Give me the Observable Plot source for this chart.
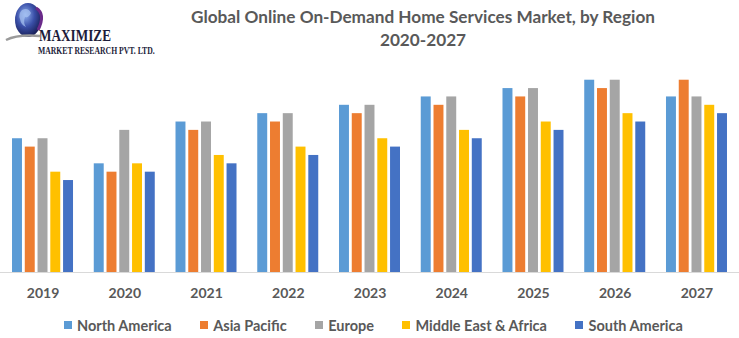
<!DOCTYPE html>
<html>
<head>
<meta charset="utf-8">
<script src="https://cdn.jsdelivr.net/npm/d3@7"></script>
<script src="https://cdn.jsdelivr.net/npm/@observablehq/plot@0.6"></script>
<style>
  html, body { margin: 0; padding: 0; background: #fff; }
  #wrap { position: relative; width: 739px; height: 338px; overflow: hidden; background: #fff; }
  #logo { position: absolute; left: 0; top: 0; }
  #title { position: absolute; left: 178px; width: 490px; top: 5px; text-align: center;
           font-family: Lato, "Open Sans", sans-serif; font-weight: 700; font-size: 17.2px;
           line-height: 23px; color: #595959; }
  #chart { position: absolute; left: 0; top: 60px; }
  #legend { position: absolute; left: 64px; top: 317px; height: 16px; display: flex; align-items: center;
            font-family: Lato, "Open Sans", sans-serif; font-weight: 700; font-size: 14.5px; color: #595959; }
  .item { display: flex; align-items: center; margin-right: 28.5px; white-space: nowrap; }
  .sw { width: 8px; height: 8px; margin-right: 5px; display: inline-block; }
</style>
</head>
<body>
<div id="wrap">
  <svg id="logo" width="172" height="58" viewBox="0 0 172 58">
    <defs>
      <radialGradient id="g" cx="0.4" cy="0.35" r="0.7">
        <stop offset="0" stop-color="#8fb0ee"/>
        <stop offset="0.5" stop-color="#3a4fa8"/>
        <stop offset="1" stop-color="#141a4e"/>
      </radialGradient>
    </defs>
    <ellipse cx="28" cy="20" rx="13" ry="17" fill="url(#g)"/>
    <path d="M22 10 q6 -3 9 3 q-2 5 -6 4 q-2 6 1 10 q-5 -2 -6 -8 q-2 -5 2 -9z" fill="#a9c4f2" opacity="0.7"/>
    <path d="M36 8 q10 6 2 22" stroke="#6a2a8a" stroke-width="3" fill="none"/>
    <path d="M6 40 q12 -6 34 -4" stroke="#9a9a9a" stroke-width="2.5" fill="none"/>
    <text id="lg1" font-family="'Liberation Serif', serif" font-weight="700" font-size="17" fill="#1c1c3a">MAXIMIZE</text>
    <text id="lg2" font-family="'Liberation Serif', serif" font-weight="700" font-size="10" fill="#1c1c3a">MARKET RESEARCH PVT. LTD.</text>
  </svg>
  <div id="title">Global Online On-Demand Home Services Market, by Region<br>2020-2027</div>
  <div id="chart"></div>
  <div id="legend"></div>
</div>
<script>
const years = ["2019", "2020", "2021", "2022", "2023", "2024", "2025", "2026", "2027"];
const regions = ["North America", "Asia Pacific", "Europe", "Middle East & Africa", "South America"];
const colors = ["#5B9BD5", "#ED7D31", "#A5A5A5", "#FFC000", "#4472C4"];

const northAmerica     = [16, 13, 18, 19, 20, 21, 22, 23, 21];
const asiaPacific      = [15, 12, 17, 18, 19, 20, 21, 22, 23];
const europe           = [16, 17, 18, 19, 20, 21, 22, 23, 21];
const middleEastAfrica = [12, 13, 14, 15, 16, 17, 18, 19, 20];
const southAmerica     = [11, 12, 13, 14, 15, 16, 17, 18, 19];

const series = [northAmerica, asiaPacific, europe, middleEastAfrica, southAmerica];
const data = [];
years.forEach((yr, i) => {
  regions.forEach((r, j) => data.push({ year: yr, region: r, value: series[j][i] }));
});

// logo text: fit to measured widths
function fitText(id, x, y, targetW) {
  const t = document.getElementById(id);
  const w = t.getComputedTextLength();
  const sx = targetW / w;
  t.setAttribute("transform", `translate(${x},${y}) scale(${sx},1)`);
}
fitText("lg1", 39, 40.5, 72);
fitText("lg2", 38, 54, 117);

const chart = Plot.plot({
  width: 739,
  height: 245,
  marginTop: 3,
  marginBottom: 33,
  marginLeft: 0,
  marginRight: 0,
  style: { fontFamily: "Lato, 'Open Sans', sans-serif", fontSize: "14px", fontWeight: "bold", color: "#595959", background: "transparent" },
  fx: { domain: years, paddingInner: 0.2538, paddingOuter: 0.147, round: false, axis: "bottom", tickSize: 0, tickPadding: 16, label: null },
  x: { domain: regions, axis: null, paddingInner: 0.22, paddingOuter: 0, round: false },
  y: { domain: [0, 25], axis: null },
  color: { domain: regions, range: colors },
  marks: [
    Plot.ruleY([0], { stroke: "#d9d9d9", strokeWidth: 1, insetLeft: -13, insetRight: -13 }),
    Plot.barY(data, { fx: "year", x: "region", y: "value", fill: "region" })
  ]
});
document.getElementById("chart").appendChild(chart);

const legend = document.getElementById("legend");
regions.forEach((r, j) => {
  const it = document.createElement("div");
  it.className = "item";
  const sw = document.createElement("span");
  sw.className = "sw";
  sw.style.background = colors[j];
  const tx = document.createElement("span");
  tx.textContent = r;
  it.appendChild(sw);
  it.appendChild(tx);
  legend.appendChild(it);
});
</script>
</body>
</html>
